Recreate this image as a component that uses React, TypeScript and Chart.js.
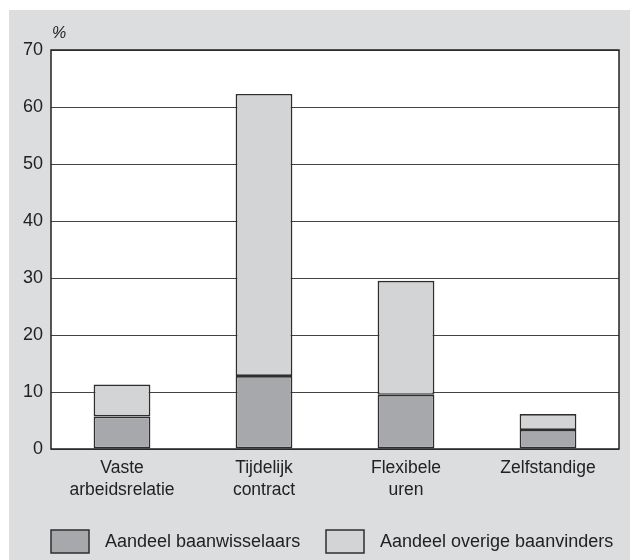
import React, { useEffect, useRef } from "react";
import { Chart, registerables } from "chart.js";

Chart.register(...registerables);

const categories: string[][] = [
  ["Vaste", "arbeidsrelatie"],
  ["Tijdelijk", "contract"],
  ["Flexibele", "uren"],
  ["Zelfstandige"],
];
const seriesNames = ["Aandeel baanwisselaars", "Aandeel overige baanvinders"];
const baanwisselaars = [5.7, 12.8, 9.5, 3.35];
const overigeBaanvinders = [5.6, 49.5, 20.0, 2.8];
const yTicks = [0, 10, 20, 30, 40, 50, 60, 70];
const yUnit = "%";

const DARK = "#a7a8ab";
const LIGHT = "#d3d4d6";
const EDGE = "#2e2e2e";
const BG = "#dcdddf";
const FONT = "Liberation Sans, Arial, sans-serif";

const framePlugin = {
  id: "frame",
  beforeDraw(chart: any) {
    const { ctx, chartArea: a } = chart;
    ctx.save();
    ctx.fillStyle = "#ffffff";
    ctx.fillRect(a.left, a.top, a.right - a.left, a.bottom - a.top);
    ctx.restore();
  },
  afterDraw(chart: any) {
    const { ctx, chartArea: a } = chart;
    ctx.save();
    ctx.strokeStyle = "#222";
    ctx.lineWidth = 1.5;
    ctx.strokeRect(a.left, a.top, a.right - a.left, a.bottom - a.top);
    // unit label
    ctx.fillStyle = "#222";
    ctx.font = "italic 16px " + FONT;
    ctx.textAlign = "left";
    ctx.textBaseline = "alphabetic";
    ctx.fillText(yUnit, a.left + 1, a.top - 12);
    // legend
    const boxW = 38;
    const boxH = 23;
    const y = a.bottom + 81;
    const starts = [a.left, a.left + 275];
    ctx.font = "18px " + FONT;
    ctx.textBaseline = "middle";
    seriesNames.forEach((name, i) => {
      const x = starts[i];
      ctx.fillStyle = i === 0 ? DARK : LIGHT;
      ctx.fillRect(x, y, boxW, boxH);
      ctx.strokeStyle = EDGE;
      ctx.lineWidth = 1.5;
      ctx.strokeRect(x, y, boxW, boxH);
      ctx.fillStyle = "#222";
      ctx.fillText(name, x + boxW + 16, y + boxH / 2 + 1);
    });
    ctx.restore();
  },
};

export default function App() {
  const ref = useRef<HTMLCanvasElement | null>(null);
  useEffect(() => {
    if (!ref.current) return;
    const chart = new Chart(ref.current, {
      type: "bar",
      data: {
        labels: categories,
        datasets: [
          {
            label: seriesNames[0],
            data: baanwisselaars,
            backgroundColor: DARK,
            borderColor: EDGE,
            borderWidth: 1.7,
            borderSkipped: false,
          },
          {
            label: seriesNames[1],
            data: overigeBaanvinders,
            backgroundColor: LIGHT,
            borderColor: EDGE,
            borderWidth: 1.7,
            borderSkipped: false,
          },
        ],
      },
      options: {
        animation: false,
        responsive: false,
        maintainAspectRatio: false,
        layout: { padding: { top: 40, right: 11, left: 0, bottom: 0 } },
        datasets: { bar: { barPercentage: 0.4, categoryPercentage: 1 } },
        plugins: { legend: { display: false }, tooltip: { enabled: false }, title: { display: false } },
        scales: {
          x: {
            stacked: true,
            grid: { display: false, drawTicks: false },
            border: { display: false },
            ticks: {
              color: "#222",
              padding: 8,
              maxRotation: 0,
              font: { family: FONT, size: 17.5, lineHeight: 1.27 },
            },
            afterFit: (s: any) => {
              s.height = 111;
            },
          },
          y: {
            stacked: true,
            min: 0,
            max: 70,
            afterBuildTicks: (s: any) => {
              s.ticks = yTicks.map((v) => ({ value: v }));
            },
            grid: { color: "#444", lineWidth: 1, drawTicks: false },
            border: { display: false },
            ticks: {
              color: "#222",
              padding: 8,
              font: { family: FONT, size: 18 },
            },
            afterFit: (s: any) => {
              s.width = 42;
            },
          },
        },
      },
      plugins: [framePlugin],
    });
    return () => chart.destroy();
  }, []);
  return (
    <div style={{ position: "fixed", top: 10, left: 9, width: 621, height: 550, background: BG }}>
      <canvas ref={ref} width={621} height={550} style={{ display: "block" }} />
    </div>
  );
}
